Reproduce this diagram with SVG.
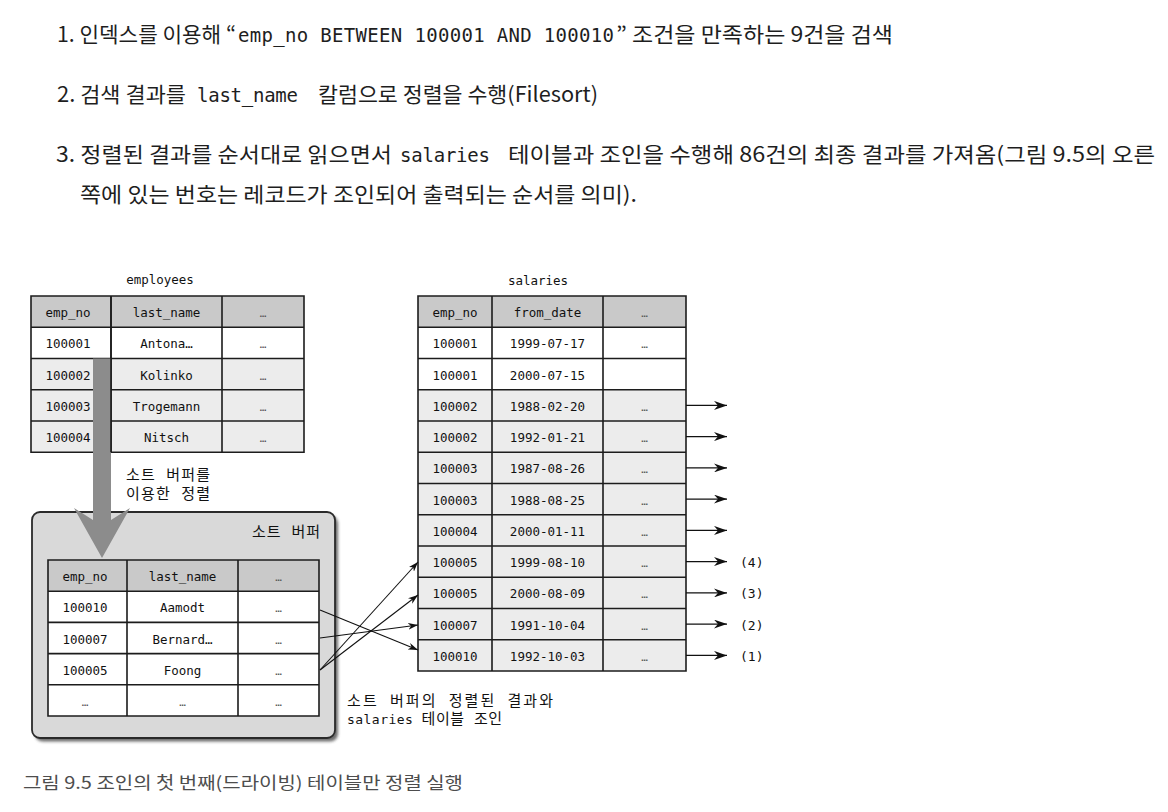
<svg xmlns="http://www.w3.org/2000/svg" width="1168" height="812" viewBox="0 0 1168 812">
<style>
.ko{font-family:"Noto Sans CJK KR","Noto Sans",sans-serif;fill:#1e1e1e}
.code{font-family:"DejaVu Sans Mono","Liberation Mono",monospace;fill:#1e1e1e}
.t{font-family:"DejaVu Sans Mono","Noto Sans CJK KR",monospace;font-size:12.5px;fill:#111;text-anchor:middle}
.lbl{font-family:"DejaVu Sans Mono","Noto Sans CJK KR",monospace;font-size:13px;fill:#111}
.k15{font-size:15px}
.el{font-family:"DejaVu Sans Mono",monospace;font-size:11px;fill:#555;text-anchor:middle}
.hd{fill:#c9c9c9}
.gr{fill:#ececec}
.wh{fill:#ffffff}
.grid{fill:none;stroke:#1c1c1c;stroke-width:1.6}
.cn{stroke:#111;stroke-width:1.1;fill:none}
</style>
<defs>
<marker id="ah" viewBox="0 0 13 9" refX="13" refY="4.5" markerWidth="13" markerHeight="9" markerUnits="userSpaceOnUse" orient="auto"><path d="M0,0 L13,4.5 L0,9 L4,4.5 z" fill="#111"/></marker>
<marker id="ahs" viewBox="0 0 10 7" refX="10" refY="3.5" markerWidth="10" markerHeight="7" markerUnits="userSpaceOnUse" orient="auto"><path d="M0,0 L10,3.5 L0,7 L3,3.5 z" fill="#111"/></marker>
<filter id="sh" x="-5%" y="-5%" width="115%" height="115%"><feGaussianBlur stdDeviation="1.6"/></filter>
</defs>
<rect width="1168" height="812" fill="#ffffff"/>

<g id="intro">
<text class="ko" x="57" y="42" font-size="21" textLength="179" lengthAdjust="spacingAndGlyphs">1. 인덱스를 이용해 “</text>
<text class="code" x="238" y="42" font-size="19" textLength="376">emp_no BETWEEN 100001 AND 100010</text>
<text class="ko" x="616" y="42" font-size="21" textLength="277" lengthAdjust="spacingAndGlyphs">” 조건을 만족하는 9건을 검색</text>
<text class="ko" x="57" y="102" font-size="21" textLength="129" lengthAdjust="spacingAndGlyphs">2. 검색 결과를</text>
<text class="code" x="197" y="102" font-size="19" textLength="101">last_name</text>
<text class="ko" x="318" y="102" font-size="21" textLength="280" lengthAdjust="spacingAndGlyphs">칼럼으로 정렬을 수행(Filesort)</text>
<text class="ko" x="56" y="162" font-size="21" textLength="336" lengthAdjust="spacingAndGlyphs">3. 정렬된 결과를 순서대로 읽으면서</text>
<text class="code" x="400" y="162" font-size="19" textLength="90">salaries</text>
<text class="ko" x="508" y="162" font-size="21" textLength="647" lengthAdjust="spacingAndGlyphs">테이블과 조인을 수행해 86건의 최종 결과를 가져옴(그림 9.5의 오른</text>
<text class="ko" x="80" y="202" font-size="21" textLength="557" lengthAdjust="spacingAndGlyphs">쪽에 있는 번호는 레코드가 조인되어 출력되는 순서를 의미).</text>
</g>

<g id="employees">
<text class="t" x="160" y="284">employees</text>
<rect class="hd" x="31" y="296" width="273" height="31.25"/>
<rect class="wh" x="31" y="327.25" width="273" height="31.25"/>
<rect class="gr" x="31" y="358.5" width="273" height="93.75"/>
<path class="grid" d="M31,296H304V452.25H31Z M31,327.25H304 M31,358.5H304 M31,389.75H304 M31,421H304 M111,296V452.25 M222,296V452.25"/>
<text class="t" x="68" y="317.1">emp_no</text><text class="t" x="166.5" y="317.1">last_name</text><text class="el" x="263" y="317.1">…</text>
<text class="t" x="68" y="348.4">100001</text><text class="t" x="166.5" y="348.4">Antona…</text><text class="el" x="263" y="348.4">…</text>
<text class="t" x="68" y="379.6">100002</text><text class="t" x="166.5" y="379.6">Kolinko</text><text class="el" x="263" y="379.6">…</text>
<text class="t" x="68" y="410.9">100003</text><text class="t" x="166.5" y="410.9">Trogemann</text><text class="el" x="263" y="410.9">…</text>
<text class="t" x="68" y="442.1">100004</text><text class="t" x="166.5" y="442.1">Nitsch</text><text class="el" x="263" y="442.1">…</text>
</g>

<g id="sort-label">
<text class="lbl k15" x="126" y="480" textLength="84">소트 버퍼를</text>
<text class="lbl k15" x="126" y="499" textLength="84">이용한 정렬</text>
</g>

<g id="sort-buffer">
<rect x="35" y="515.5" width="303" height="226" rx="8" fill="#3a3a3a" opacity="0.75" filter="url(#sh)"/>
<rect x="32" y="512" width="303" height="226" rx="8" fill="#d9d9d9" stroke="#2a2a2a" stroke-width="1.8"/>
<text class="lbl k15" x="252" y="537" textLength="68">소트 버퍼</text>
<rect class="hd" x="48" y="560" width="271" height="31.2"/>
<rect class="wh" x="48" y="591.2" width="271" height="124.8"/>
<path class="grid" d="M48,560H319V716H48Z M48,591.2H319 M48,622.4H319 M48,653.6H319 M48,684.8H319 M127,560V716 M238,560V716"/>
<text class="t" x="85" y="581.1">emp_no</text><text class="t" x="182.5" y="581.1">last_name</text><text class="el" x="278.5" y="581.1">…</text>
<text class="t" x="85" y="612.3">100010</text><text class="t" x="182.5" y="612.3">Aamodt</text><text class="el" x="278.5" y="612.3">…</text>
<text class="t" x="85" y="643.5">100007</text><text class="t" x="182.5" y="643.5">Bernard…</text><text class="el" x="278.5" y="643.5">…</text>
<text class="t" x="85" y="674.7">100005</text><text class="t" x="182.5" y="674.7">Foong</text><text class="el" x="278.5" y="674.7">…</text>
<text class="el" x="85" y="705.9">…</text><text class="el" x="182.5" y="705.9">…</text><text class="el" x="278.5" y="705.9">…</text>
</g>

<g id="sort-arrow">
<rect x="93" y="358.5" width="18" height="162" fill="#8c8c8c"/>
<polygon points="93,520 74,508 102,558 130,508 111,520" fill="#8c8c8c"/>
<path d="M111,296V452.25" stroke="#1c1c1c" stroke-width="1.6"/>
</g>

<g id="salaries">
<text class="t" x="538" y="285">salaries</text>
<rect class="hd" x="418" y="296" width="268" height="31.25"/>
<rect class="wh" x="418" y="327.25" width="268" height="62.5"/>
<rect class="gr" x="418" y="389.75" width="268" height="281.25"/>
<path class="grid" d="M418,296H686V671H418Z M418,327.25H686 M418,358.5H686 M418,389.75H686 M418,421H686 M418,452.25H686 M418,483.5H686 M418,514.75H686 M418,546H686 M418,577.25H686 M418,608.5H686 M418,639.75H686 M492,296V671 M603,296V671"/>
<text class="t" x="455" y="317.1">emp_no</text><text class="t" x="547.5" y="317.1">from_date</text><text class="el" x="644.5" y="317.1">…</text>
<text class="t" x="455" y="348.4">100001</text><text class="t" x="547.5" y="348.4">1999-07-17</text><text class="el" x="644.5" y="348.4">…</text>
<text class="t" x="455" y="379.6">100001</text><text class="t" x="547.5" y="379.6">2000-07-15</text>
<text class="t" x="455" y="410.9">100002</text><text class="t" x="547.5" y="410.9">1988-02-20</text><text class="el" x="644.5" y="410.9">…</text>
<text class="t" x="455" y="442.1">100002</text><text class="t" x="547.5" y="442.1">1992-01-21</text><text class="el" x="644.5" y="442.1">…</text>
<text class="t" x="455" y="473.4">100003</text><text class="t" x="547.5" y="473.4">1987-08-26</text><text class="el" x="644.5" y="473.4">…</text>
<text class="t" x="455" y="504.6">100003</text><text class="t" x="547.5" y="504.6">1988-08-25</text><text class="el" x="644.5" y="504.6">…</text>
<text class="t" x="455" y="535.9">100004</text><text class="t" x="547.5" y="535.9">2000-01-11</text><text class="el" x="644.5" y="535.9">…</text>
<text class="t" x="455" y="567.1">100005</text><text class="t" x="547.5" y="567.1">1999-08-10</text><text class="el" x="644.5" y="567.1">…</text>
<text class="t" x="455" y="598.4">100005</text><text class="t" x="547.5" y="598.4">2000-08-09</text><text class="el" x="644.5" y="598.4">…</text>
<text class="t" x="455" y="629.6">100007</text><text class="t" x="547.5" y="629.6">1991-10-04</text><text class="el" x="644.5" y="629.6">…</text>
<text class="t" x="455" y="660.9">100010</text><text class="t" x="547.5" y="660.9">1992-10-03</text><text class="el" x="644.5" y="660.9">…</text>
</g>

<g id="connectors">
<path class="cn" marker-end="url(#ah)" d="M686,405.4H727"/>
<path class="cn" marker-end="url(#ah)" d="M686,436.6H727"/>
<path class="cn" marker-end="url(#ah)" d="M686,467.9H727"/>
<path class="cn" marker-end="url(#ah)" d="M686,499.1H727"/>
<path class="cn" marker-end="url(#ah)" d="M686,530.4H727"/>
<path class="cn" marker-end="url(#ah)" d="M686,561.6H727"/>
<path class="cn" marker-end="url(#ah)" d="M686,592.9H727"/>
<path class="cn" marker-end="url(#ah)" d="M686,624.1H727"/>
<path class="cn" marker-end="url(#ah)" d="M686,655.4H727"/>
<path class="cn" marker-end="url(#ahs)" d="M320,610L418,650"/>
<path class="cn" marker-end="url(#ahs)" d="M320,638L418,625"/>
<path class="cn" marker-end="url(#ahs)" d="M320,670L418,562"/>
<path class="cn" marker-end="url(#ahs)" d="M320,670L418,595"/>
</g>

<g id="order-labels">
<text class="lbl" x="740" y="567.1">(4)</text>
<text class="lbl" x="740" y="598.4">(3)</text>
<text class="lbl" x="740" y="629.6">(2)</text>
<text class="lbl" x="740" y="660.9">(1)</text>
</g>

<g id="join-label">
<text class="lbl k15" x="347" y="706" textLength="206">소트 버퍼의 정렬된 결과와</text>
<text class="lbl" x="347" y="724" textLength="155">salaries <tspan class="k15">테이블 조인</tspan></text>
</g>

<g id="caption">
<text class="ko" x="23" y="789" font-size="17" style="fill:#4d4d4d" textLength="440" lengthAdjust="spacingAndGlyphs">그림 9.5 조인의 첫 번째(드라이빙) 테이블만 정렬 실행</text>
</g>
</svg>
